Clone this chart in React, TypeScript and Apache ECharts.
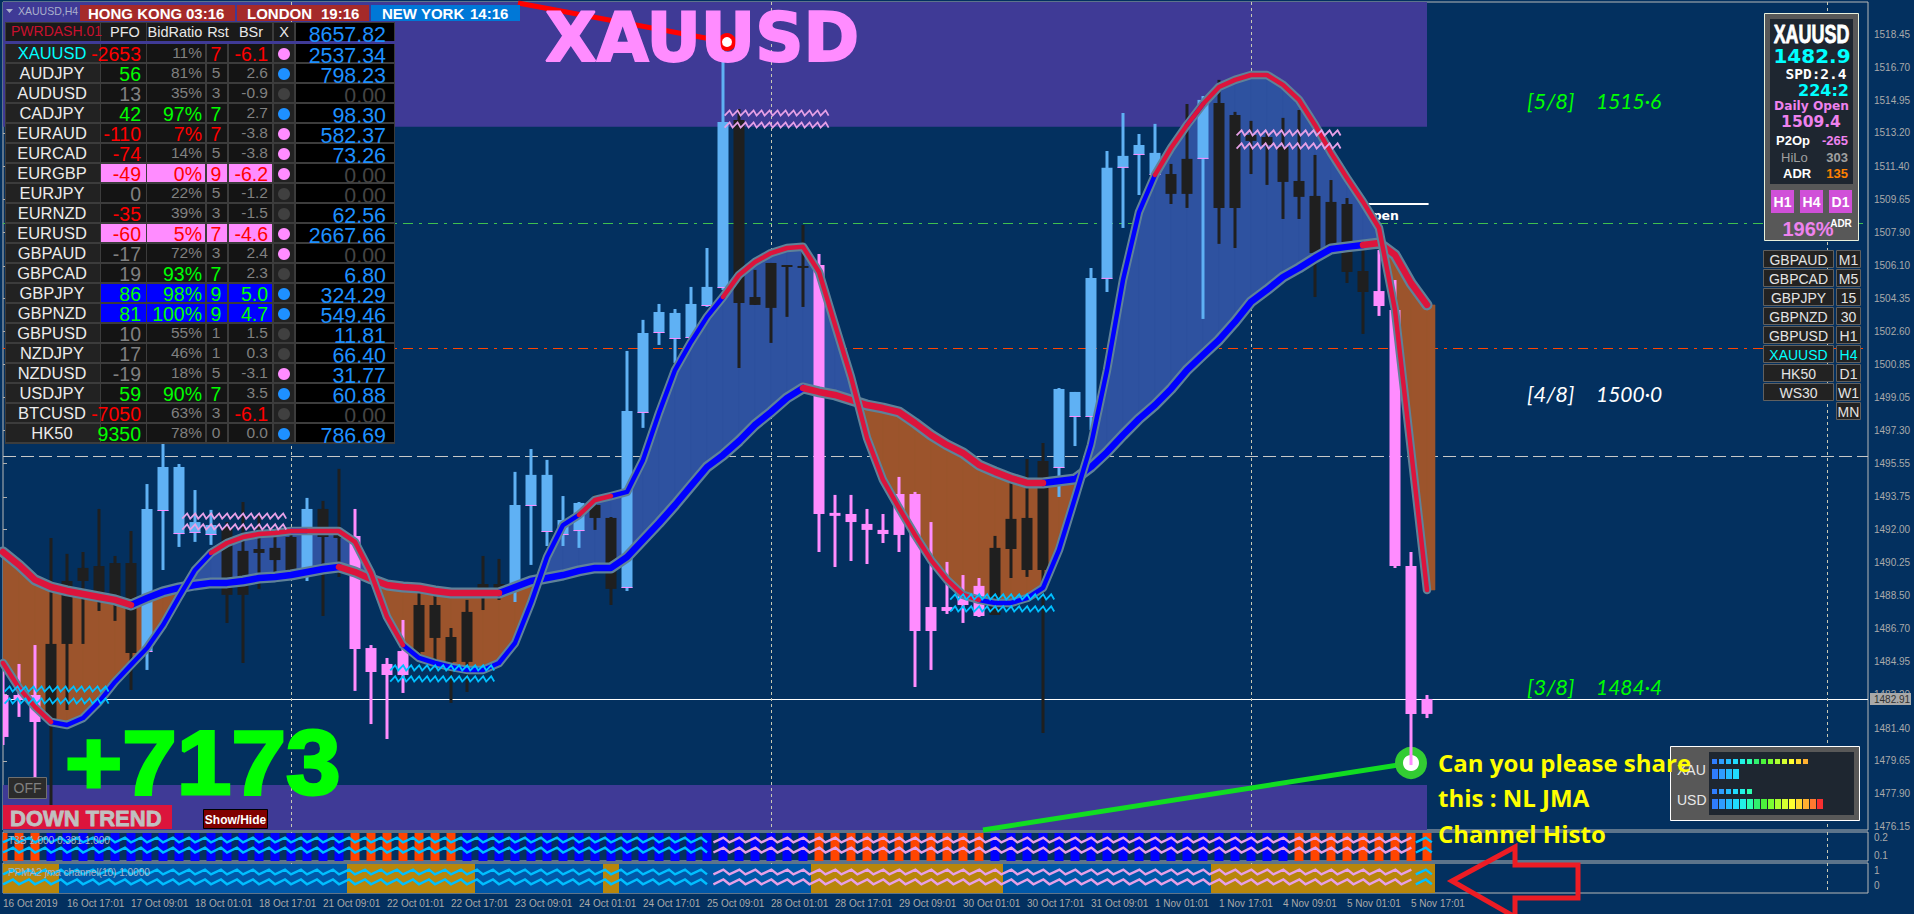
import React, { useEffect, useRef } from "react";
import * as echarts from "echarts";

// ---------- price bars (H4) ----------
const barHigh = [1485.04,1484.83,1485.84,1491.56,1490.71,1490.81,1493.11,1490.60,1491.93,1494.44,1496.63,1495.51,1494.12,1493.06,1492.41,1493.48,1492.79,1491.83,1491.83,1493.70,1493.54,1495.25,1493.11,1485.84,1485.15,1487.18,1488.62,1488.52,1486.75,1488.25,1490.60,1490.44,1495.09,1496.31,1495.73,1493.80,1493.48,1493.86,1492.68,1501.55,1503.21,1504.06,1503.79,1504.97,1507.05,1517.90,1514.48,1505.88,1506.25,1506.14,1508.28,1506.73,1493.86,1493.86,1493.11,1492.84,1494.82,1494.02,1492.41,1490.28,1489.58,1489.42,1491.67,1494.50,1495.78,1496.63,1499.57,1499.36,1505.98,1512.23,1514.26,1513.14,1513.68,1511.54,1514.74,1515.17,1516.03,1514.32,1513.84,1513.20,1514.00,1514.42,1512.02,1510.68,1509.72,1506.94,1506.94,1505.34,1490.81,1483.17];
const barTop = [1483.17,1483.17,1483.17,1485.90,1489.26,1489.96,1490.06,1490.22,1490.22,1493.11,1495.35,1495.35,1492.41,1492.25,1492.09,1490.87,1490.97,1491.03,1491.61,1493.11,1493.11,1491.99,1491.67,1485.68,1484.83,1485.52,1487.98,1487.98,1486.27,1487.61,1489.10,1489.10,1493.32,1494.93,1494.93,1492.52,1493.43,1493.32,1492.63,1498.34,1502.51,1503.63,1503.58,1504.06,1504.97,1513.78,1513.89,1504.43,1506.25,1506.14,1506.09,1506.14,1492.90,1492.84,1492.31,1491.99,1493.91,1493.91,1487.87,1487.87,1488.52,1489.00,1491.03,1492.58,1492.63,1495.67,1499.52,1499.36,1505.45,1511.33,1511.97,1512.55,1512.13,1511.00,1511.81,1514.96,1514.80,1514.16,1513.09,1512.98,1512.45,1510.63,1509.83,1509.51,1509.40,1505.82,1504.75,1503.74,1490.06,1482.96];
const barBottom = [1480.93,1482.91,1481.73,1481.84,1485.90,1489.26,1488.57,1488.09,1485.42,1485.47,1493.00,1491.77,1491.83,1491.72,1488.52,1488.52,1490.76,1490.38,1489.85,1489.85,1491.61,1491.56,1485.63,1484.40,1484.24,1484.24,1485.47,1486.22,1484.94,1484.94,1488.52,1488.52,1488.78,1493.27,1491.88,1491.72,1491.93,1492.63,1488.84,1488.89,1498.24,1502.51,1502.19,1502.24,1503.95,1504.91,1504.11,1504.01,1503.85,1506.04,1506.04,1492.84,1492.74,1492.41,1491.99,1491.77,1491.72,1486.59,1486.59,1487.66,1487.98,1487.39,1487.45,1490.97,1489.85,1489.85,1495.30,1498.02,1498.02,1505.40,1511.33,1512.02,1510.95,1509.94,1509.94,1511.81,1509.19,1509.19,1512.77,1512.55,1510.58,1509.78,1506.78,1507.05,1505.77,1504.70,1503.95,1490.06,1482.16,1482.16];
const barLow = [1480.50,1482.00,1478.74,1477.30,1482.37,1485.90,1487.66,1487.13,1483.44,1484.51,1489.85,1491.08,1491.35,1491.19,1487.02,1484.88,1488.84,1489.74,1489.32,1489.26,1487.39,1489.48,1483.39,1481.62,1480.82,1483.28,1485.04,1484.78,1482.75,1483.33,1487.71,1488.25,1488.14,1490.12,1491.13,1491.13,1491.03,1491.99,1487.98,1488.73,1497.44,1501.87,1500.91,1501.87,1503.90,1504.81,1500.64,1504.01,1501.98,1503.37,1503.90,1490.81,1490.01,1490.33,1490.17,1491.29,1490.81,1483.60,1484.51,1487.50,1487.02,1487.34,1487.45,1489.42,1489.48,1481.14,1493.75,1496.47,1497.33,1504.70,1508.12,1509.88,1510.95,1509.40,1509.19,1503.26,1507.27,1507.05,1511.00,1510.42,1508.60,1508.60,1504.43,1506.94,1505.18,1502.46,1503.42,1489.96,1479.43,1481.94];
// U = rising bar, D = falling bar, N = neutral bar
const barState = "DDD" + "NNNNNN" + "UUUUU" + "NNNNN" + "U" + "NN" + "DDDD" + "NNNNNN" + "UUUUU" + "NN" + "UUUUUUU" + "NNNNN" + "DDDDDDDDDDD" + "NNNN" + "UUUUUUU" + "NN" + "U" + "NNNNNNNNNN" + "DDDD";

// ---------- channel curves ----------
const fastCurve = [1484.88,1483.55,1482.53,1481.73,1481.57,1481.94,1482.80,1483.87,1484.78,1485.68,1486.91,1488.41,1489.85,1490.76,1491.29,1491.61,1491.77,1491.83,1491.93,1491.93,1491.93,1491.93,1491.35,1489.69,1487.34,1485.84,1485.15,1484.88,1484.67,1484.51,1484.51,1484.88,1485.95,1488.09,1490.54,1492.25,1492.79,1493.59,1493.80,1494.02,1495.73,1498.24,1500.53,1502.03,1503.37,1504.43,1505.61,1506.30,1506.78,1507.05,1507.11,1505.77,1502.94,1500.16,1496.90,1494.66,1493.16,1491.72,1490.38,1489.32,1488.52,1488.25,1488.09,1488.09,1488.35,1488.89,1490.92,1493.70,1496.53,1500.53,1505.34,1508.97,1510.95,1512.39,1513.62,1514.74,1515.65,1516.03,1516.29,1516.29,1515.76,1514.96,1513.62,1512.13,1510.79,1509.51,1508.12,1503.74,1496.26,1488.78];
const slowCurve = [1490.81,1490.12,1489.32,1488.94,1488.73,1488.57,1488.41,1488.25,1487.98,1488.35,1488.68,1488.89,1489.05,1489.16,1489.16,1489.26,1489.42,1489.48,1489.58,1489.74,1489.90,1490.01,1489.74,1489.37,1489.05,1488.94,1488.89,1488.73,1488.62,1488.62,1488.62,1488.62,1488.94,1489.26,1489.42,1489.58,1489.80,1489.96,1489.96,1490.54,1491.45,1492.36,1493.32,1494.34,1495.35,1495.99,1496.74,1497.60,1498.29,1499.04,1499.57,1499.36,1499.20,1498.93,1498.66,1498.50,1498.29,1497.70,1497.06,1496.53,1496.10,1495.46,1495.09,1494.76,1494.50,1494.50,1494.60,1494.71,1495.35,1496.15,1497.06,1497.92,1498.66,1499.52,1500.53,1501.34,1502.14,1503.10,1504.17,1504.81,1505.50,1505.98,1506.52,1507.00,1507.11,1507.21,1507.32,1506.68,1505.18,1504.01];
const fastTrend = "RRR" + "BBBBBBBBBB" + "RRRRR" + "B" + "RRRRRR" + "BBBBBBBBBBB" + "RR" + "BBBBBBB" + "RRRRRRRRRRRRRRRR" + "BBBBBBBBBBB" + "RR" + "B" + "RRRRRRRRRRRRRRR";
const slowTrend = "RRRRRRRR" + "BBBBBBBBBBBBB" + "RRRRRRRRRR" + "BBBBBBBBBBBBBBBBBBB" + "RRRRRRRRRRRRRRR" + "BBBBBBBBBBBBBBBBBBBB" + "RRRRR";

// ---------- histogram panes ----------
const histoA = "OOO" + "BBBBBBBBBBBBBBBBBBB" + "OOOOOOO" + "BBBBBBBBBBBBBBBBBBBBBB" + "OOOOOOOOOOO" + "BBBBBBBBBBBBBBBBBBB" + "OOOOOOOOO";
const histoB = "GGGG" + "BBBBBBBBBBBBBBBBBB" + "GGGGGGGG" + "BBBBBBBB" + "G" + "BBBBBBBBBBBB" + "GGGGGGGGGGGG" + "BBBBBBBBBBBBB" + "GGGGGGGGGGGGGG";

// ---------- levels ----------
const levelLines = [1508.38, 1501.71, 1495.95, 1482.96];
const zoneBands = [[1520.19, 1513.52], [1478.37, 1475.96]];
const separators = [18, 48, 78, 114];
const dailyOpenLevel = 1509.4;
const zigzagMain = [[45.1, 51.9, 1514.26, 0], [45.1, 51.9, 1513.62, 0], [77.1, 83.9, 1513.2, 0], [77.1, 83.9, 1512.5, 0], [11.2, 17.8, 1492.73, 0], [11.2, 17.8, 1492.15, 0], [0.1, 6.8, 1483.49, 1], [0.1, 6.8, 1482.85, 1], [24.2, 30.8, 1484.62, 1], [24.2, 30.8, 1484.03, 1], [59.2, 65.8, 1488.41, 1], [59.2, 65.8, 1487.77, 1]];
const zigzagRuns = [[0, 44.4, 1], [44.4, 88.3, 0], [88.3, 89.7, 1]];
const zigzagLevelsA = [0.188, 0.129];
const zigzagLevelsB = [0.93, 0.27];

// ---------- axes ----------
const priceTicks = [1518.45,1516.7,1514.95,1513.2,1511.4,1509.65,1507.9,1506.1,1504.35,1502.6,1500.85,1499.05,1497.3,1495.55,1493.75,1492,1490.25,1488.5,1486.7,1484.95,1483.2,1481.4,1479.65,1477.9,1476.15];
const timeLabels = ["16 Oct 2019","16 Oct 17:01","17 Oct 09:01","18 Oct 01:01","18 Oct 17:01","21 Oct 09:01","22 Oct 01:01","22 Oct 17:01","23 Oct 09:01","24 Oct 01:01","24 Oct 17:01","25 Oct 09:01","28 Oct 01:01","28 Oct 17:01","29 Oct 09:01","30 Oct 01:01","30 Oct 17:01","31 Oct 09:01","1 Nov 01:01","1 Nov 17:01","4 Nov 09:01","5 Nov 01:01","5 Nov 17:01"];
const timeTickStep = 4;

// ---------- dashboard ----------
const dashSymbols = ["XAUUSD","AUDJPY","AUDUSD","CADJPY","EURAUD","EURCAD","EURGBP","EURJPY","EURNZD","EURUSD","GBPAUD","GBPCAD","GBPJPY","GBPNZD","GBPUSD","NZDJPY","NZDUSD","USDJPY","BTCUSD","HK50"];
const dashPfo = ["-2653","56","13","42","-110","-74","-49","0","-35","-60","-17","19","86","81","10","17","-19","59","-7050","9350"];
const dashPfoTone = "rgngrrrnrrnnggnnngrg";
const dashBid = ["11%","81%","35%","97%","7%","14%","0%","22%","39%","5%","72%","93%","98%","100%","55%","46%","18%","90%","63%","78%"];
const dashBidTone = "nnngrnrnnrngggnnngnn";
const dashRst = ["7","5","3","7","7","5","9","5","3","7","3","7","9","9","1","1","5","7","3","0"];
const dashRstTone = "rnngrnrnnrngggnnngnn";
const dashBsr = ["-6.1","2.6","-0.9","2.7","-3.8","-3.8","-6.2","-1.2","-1.5","-4.6","2.4","2.3","5.0","4.7","1.5","0.3","-3.1","3.5","-6.1","0.0"];
const dashBsrTone = "rnnnnnrnnrnnggnnnnrn";
const dashDot = "pbnbpppnnppnbbnnpbnb";
const dashValue = ["2537.34","798.23","0.00","98.30","582.37","73.26","0.00","0.00","62.56","2667.66","0.00","6.80","324.29","549.46","11.81","66.40","31.77","60.88","0.00","786.69"];
const dashHighlight = [0,0,0,0,0,0,1,0,0,1,0,0,2,2,0,0,0,0,0,0];
const dashHeader = ["PFO", "BidRatio", "Rst", "BSr", "X"];
const dashTotal = "8657.82";

const sessions = [["HONG KONG", "03:16"], ["LONDON", "19:16"], ["NEW YORK", "14:16"]];
const symbolList = [["GBPAUD","M1"],["GBPCAD","M5"],["GBPJPY","15"],["GBPNZD","30"],["GBPUSD","H1"],["XAUUSD","H4"],["HK50","D1"],["WS30","W1"],["","MN"]];
const strengthRows = [["XAU", 14, 4], ["USD", 6, 16]];
const strengthColors = ["#2f7dff","#2f9dff","#25bdff","#20dcff","#22f2e6","#2cffb0","#30f06e","#4cf23c","#7cff30","#aeff30","#d6ff30","#ffff30","#ffd830","#ffb030","#ff7a30","#f83030"];
const murrey = [["[5/8]", "1515·6", 100, "#00ff00"], ["[4/8]", "1500·0", 393, "#ffffff"], ["[3/8]", "1484·4", 686, "#00ff00"]];
const questionLines = ["Can you please share", "this : NL JMA", "Channel Histo"];

const BG = "#03305f";
const SANS = "'Liberation Sans', Arial, sans-serif";
const DEJAVU = "'DejaVu Sans', sans-serif";

function txt(text: string, x: number, y: number, o: any = {}) {
  const font = `${o.italic ? "italic " : ""}${o.weight || "normal"} ${o.size || 12}px ${o.family || SANS}`;
  const style: any = { text, x: 0, y: 0, fill: o.color || "#fff", font, textAlign: o.align || "left", align: o.align || "left", textVerticalAlign: "middle", verticalAlign: "middle" };
  if (o.stroke) { style.stroke = o.stroke; style.lineWidth = o.lw || 1; }
  return { type: "text", x, y, z: o.z ?? 30, silent: true, scaleX: o.scaleX ?? 1, style };
}
function box(x: number, y: number, w: number, h: number, fill: string, o: any = {}) {
  return { type: "rect", z: o.z ?? 30, silent: true, shape: { x, y, width: w, height: h }, style: { fill, stroke: o.stroke || undefined, lineWidth: o.stroke ? o.lw || 1 : 0 } };
}

function buildGraphics() {
  const g: any[] = [];
  // annotations under the bars
  g.push({ type: "line", z: 4, silent: true, shape: { x1: 983, y1: 830, x2: 1411, y2: 763 }, style: { stroke: "#11dd22", lineWidth: 5 } });
  g.push({ type: "circle", z: 4, silent: true, shape: { cx: 1411, cy: 763, r: 12 }, style: { fill: "#ffffff", stroke: "#33cc33", lineWidth: 8 } });
  g.push({ type: "line", z: 20, silent: true, shape: { x1: 518, y1: 3, x2: 727, y2: 42 }, style: { stroke: "#ff0000", lineWidth: 5 } });
  g.push({ type: "circle", z: 20, silent: true, shape: { cx: 727, cy: 42, r: 7 }, style: { fill: "#ffffff", stroke: "#ff0000", lineWidth: 4 } });
  g.push(txt("XAUUSD", 545, 38, { size: 67, weight: "bold", family: DEJAVU, color: "#ff8cff", stroke: "#ff8cff", lw: 2, z: 21 }));
  g.push(txt("+7173", 65, 763, { size: 90, weight: "bold", color: "#00ff00", stroke: "#00ff00", lw: 3, scaleX: 1.09, z: 21 }));
  g.push(txt("Open", 1362, 215, { size: 12.5, weight: "bold", family: DEJAVU, color: "#ffffff", z: 3 }));
  // lower-left buttons
  g.push(box(8.5, 777.5, 38, 21, "#2b2b2b", { stroke: "#707070" }));
  g.push(txt("OFF", 27.5, 788, { size: 14, color: "#808080", align: "center" }));
  g.push(box(3, 805, 169, 24, "#dc143c"));
  g.push(txt("DOWN TREND", 10, 818, { size: 22, weight: "bold", color: "#c0c0c0", stroke: "#c0c0c0", lw: 0.8 }));
  g.push(box(203.5, 809.5, 64, 19, "#800000", { stroke: "#000000" }));
  g.push(txt("Show/Hide", 235.5, 820, { size: 12, weight: "bold", color: "#ffffff", align: "center" }));
  // arrow
  g.push({ type: "polygon", z: 25, silent: true, shape: { points: [[1452, 881], [1515, 847], [1515, 865], [1578, 865], [1578, 898], [1515, 898], [1515, 917]] }, style: { fill: "none", stroke: "#ed1c24", lineWidth: 5 } });
  // murrey labels
  murrey.forEach((m: any) => {
    g.push(txt(m[0], 1527, m[2], { size: 22, italic: true, family: "Lato, sans-serif", color: m[3], z: 10 }));
    g.push(txt(m[1], 1596, m[2], { size: 21, italic: true, family: "Lato, sans-serif", color: m[3], z: 10 }));
  });
  // price tag
  g.push(box(1870, 693, 41, 12, "#a8a8a8"));
  g.push(txt("1482.91", 1874, 699.5, { size: 10, color: "#303030" }));
  // sub-pane captions
  g.push(txt("T3S 1.000 0.381 1.000", 8, 840, { size: 10, color: "#a9b4c4", z: 9 }));
  g.push(txt("PPMA2 jma channel(10) 1.0000", 8, 872, { size: 10, color: "#a9b4c4", z: 9 }));

  // chart caption + sessions
  g.push({ type: "polygon", z: 30, silent: true, shape: { points: [[6, 9], [13, 9], [9.5, 13]] }, style: { fill: "#aab0cc" } });
  g.push(txt("XAUUSD,H4", 18, 11, { size: 10.5, color: "#aab0cc" }));
  const sessBox = [[80, 155, "#a52a2a", 88, 186], [237, 132, "#a52a2a", 247, 321], [371, 149, "#0078d7", 382, 470]];
  sessions.forEach((s, i) => {
    const b: any = sessBox[i];
    g.push(box(b[0], 5, b[1], 16, b[2]));
    g.push(txt(s[0], b[3], 13, { size: 15, weight: "bold", color: "#ffffff" }));
    g.push(txt(s[1], b[4], 13, { size: 15, weight: "bold", color: "#ffffff" }));
  });

  // dashboard
  const RED = "#ff0000", GREEN = "#00ff00", GREY = "#808080";
  const tone = (c: string) => (c === "r" ? RED : c === "g" ? GREEN : GREY);
  const col = { sym: [6, 94], pfo: [101, 45], bid: [147, 58], rst: [207, 20], bsr: [229, 43], x: [274, 20], val: [296, 98] };
  g.push(box(5, 22, 390, 422, "#3c3c3c"));
  g.push(box(5, 41, 390, 3, "#3f3a96"));
  const cell = (c: number[], y: number, h: number, fill: string) => g.push(box(c[0], y, c[1], h, fill));
  cell(col.sym, 23, 18, "#1a1a1a");
  cell(col.pfo, 23, 18, "#1a1a1a");
  cell([147, 125], 23, 18, "#1a1a1a");
  cell(col.x, 23, 18, "#1a1a1a");
  cell(col.val, 23, 18, "#000000");
  g.push(txt("PWRDASH.01", 11, 31, { size: 14, color: "#c8102e" }));
  const hx = [125, 175, 218, 251, 284];
  dashHeader.forEach((h, i) => g.push(txt(h, hx[i], 31.5, { size: 14.5, color: "#e8e8e8", align: "center" })));
  g.push(txt(dashTotal, 386, 34.5, { size: 21.4, color: "#1e90ff", align: "right" }));
  dashSymbols.forEach((s, k) => {
    const y = 44 + 20 * k, h = 18, cy = y + 9, hi = dashHighlight[k];
    const dataBg = hi === 1 ? "#ff8cff" : hi === 2 ? "#0000ff" : "#141414";
    cell(col.sym, y, h, "#222222");
    cell(col.pfo, y, h, dataBg);
    cell(col.bid, y, h, dataBg);
    cell(col.rst, y, h, dataBg);
    cell(col.bsr, y, h, dataBg);
    cell(col.x, y, h, "#222222");
    cell(col.val, y, h, "#000000");
    g.push(txt(s, 52, cy, { size: 16.5, color: k === 0 ? "#00ffff" : "#ececec", align: "center" }));
    g.push(txt(dashPfo[k], 141, cy + 1, { size: 19.5, color: tone(dashPfoTone[k]), align: "right" }));
    const sz = (c: string) => (c === "n" ? 15.5 : 19.5);
    g.push(txt(dashBid[k], 202, cy + (dashBidTone[k] === "n" ? -0.5 : 1), { size: sz(dashBidTone[k]), color: tone(dashBidTone[k]), align: "right" }));
    g.push(txt(dashRst[k], 216, cy + (dashRstTone[k] === "n" ? -0.5 : 1), { size: sz(dashRstTone[k]), color: tone(dashRstTone[k]), align: "center" }));
    g.push(txt(dashBsr[k], 268, cy + (dashBsrTone[k] === "n" ? -0.5 : 1), { size: sz(dashBsrTone[k]), color: tone(dashBsrTone[k]), align: "right" }));
    const d = dashDot[k];
    g.push({ type: "circle", z: 30, silent: true, shape: { cx: 284, cy: y + 10, r: 6 }, style: { fill: d === "p" ? "#ff8cff" : d === "b" ? "#1e90ff" : "#404040" } });
    g.push(txt(dashValue[k], 386, cy + 2.5, { size: 21.4, color: dashValue[k] === "0.00" ? "#444444" : "#1e90ff", align: "right" }));
  });

  // right info panel
  g.push(box(1764.5, 13.5, 94, 227, "#585858", { stroke: "#e8f0dc" }));
  g.push(box(1770, 19, 83, 165, "#1e2630"));
  g.push(txt("XAUUSD", 1811.5, 34, { size: 26, weight: "bold", color: "#ffffff", stroke: "#ffffff", lw: 0.8, align: "center", scaleX: 0.69 }));
  g.push(txt("1482.9", 1812, 55.5, { size: 20, weight: "bold", family: DEJAVU, color: "#00ffff", align: "center" }));
  g.push(txt("SPD:2.4", 1816, 74, { size: 14.5, weight: "bold", family: "'DejaVu Sans Mono', monospace", color: "#ffffff", align: "center" }));
  g.push(txt("224:2", 1849, 90, { size: 16, weight: "bold", family: DEJAVU, color: "#00ffff", align: "right" }));
  g.push(txt("Daily Open", 1811.5, 105.5, { size: 12.2, weight: "bold", family: DEJAVU, color: "#ee82ee", align: "center" }));
  g.push(txt("1509.4", 1811, 122, { size: 15.5, weight: "bold", family: DEJAVU, color: "#ee82ee", align: "center" }));
  const rows = [["P2Op", "-265", 140, "#ffffff", "#ee82ee"], ["HiLo", "303", 157, "#a0a0a0", "#a0a0a0"], ["ADR", "135", 173.5, "#ffffff", "#ff8000"]];
  rows.forEach((r: any, i) => {
    g.push(txt(r[0], i === 0 ? 1776 : i === 1 ? 1781 : 1783, r[2], { size: 13, weight: i === 1 ? "normal" : "bold", color: r[3] }));
    g.push(txt(r[1], 1848, r[2], { size: 13, weight: "bold", color: r[4], align: "right" }));
  });
  ["H1", "H4", "D1"].forEach((s, i) => {
    const x = 1771 + i * 29;
    g.push(box(x, 190, 23, 23, "#d050d8"));
    g.push(txt(s, x + 11.5, 202, { size: 14, weight: "bold", color: "#ffffff", align: "center" }));
  });
  g.push(txt("196%", 1808, 229, { size: 20, weight: "bold", color: "#ee82ee", align: "center" }));
  g.push(txt("ADR", 1841, 223, { size: 10, weight: "bold", color: "#ffffff", align: "center" }));

  // symbol list
  symbolList.forEach((s, i) => {
    const y = 250.5 + 19 * i, cy = y + 9, on = s[0] === "XAUUSD";
    if (s[0]) {
      g.push(box(1763.5, y, 70, 17, "#222222", { stroke: "#606060" }));
      g.push(txt(s[0], 1798.5, cy, { size: 14, color: on ? "#00ffff" : "#e4e4e4", align: "center" }));
    }
    g.push(box(1836.5, y, 24, 17, "#222222", { stroke: "#606060" }));
    g.push(txt(s[1], 1848.5, cy, { size: 14, color: on ? "#00ffff" : "#e4e4e4", align: "center" }));
  });

  // currency strength panel
  g.push(box(1670.5, 746.5, 189, 74, "#585858", { stroke: "#ffffff" }));
  g.push(box(1709, 752, 145, 63, "#1e2630"));
  strengthRows.forEach((r: any, k) => {
    const y0 = 759 + 30 * k;
    g.push(txt(r[0], 1677, y0 + 11, { size: 14, color: "#e8e8e8" }));
    for (let i = 0; i < r[1]; i++) g.push(box(1712 + 7 * i, y0, 5, 5, strengthColors[i]));
    for (let i = 0; i < r[2]; i++) g.push(box(1712 + 7 * i, y0 + 10, 6, 10, strengthColors[i]));
  });
  // question, on top of the strength panel
  questionLines.forEach((s, i) => g.push(txt(s, 1438, [762, 797, 833][i], { size: 24, weight: "bold", family: "'Open Sans', sans-serif", color: "#ffff00", z: 35 })));
  return g;
}

const xMax = 116.5625;
const hide = { show: false };

function fullRange(paneIndex: number, data: any[], item: (i: number) => string | null, width: number, z: number) {
  return {
    type: "custom", xAxisIndex: paneIndex, yAxisIndex: paneIndex, z, silent: true, clip: true, data,
    renderItem: (p: any, api: any) => {
      const i = api.value(0);
      const fill = item(i);
      if (!fill) return null;
      const cs = p.coordSys;
      const w = width * 16;
      const x = api.coord([i, 0])[0];
      return { type: "rect", shape: { x: x - w / 2, y: cs.y + 1, width: w, height: cs.height - 1 }, style: { fill } };
    },
  };
}

function zigzagSeries(pane: number, data: any[], pitch: number, rise: number, amp: number, lw: number, z: number) {
  return {
    type: "custom", xAxisIndex: pane, yAxisIndex: pane, z, silent: true, clip: false, data,
    encode: { x: [0, 1], y: 2 },
    renderItem: (_: any, api: any) => {
      const a = api.coord([api.value(0), api.value(2)]);
      const b = api.coord([api.value(1), api.value(2)]);
      const pts: number[][] = [];
      for (let x = a[0]; x < b[0]; x += pitch) {
        pts.push([x, a[1] + amp]);
        if (x + rise <= b[0]) pts.push([x + rise, a[1] - amp]);
      }
      return { type: "polyline", shape: { points: pts }, style: { stroke: api.value(3) === 1 ? "#00bfff" : "#e6a0e6", fill: "none", lineWidth: lw } };
    },
  };
}

function curveSeries(values: number[], trend: string, inner: number, outer: number, z: number) {
  const outline = values.map((v, i) => [i, v]);
  const part = (c: string) => values.map((v, i) => [i, trend[i] === c || (i > 0 && trend[i - 1] === c) ? v : null]);
  const base = { type: "line", xAxisIndex: 0, yAxisIndex: 0, showSymbol: false, symbol: "none", silent: true, clip: true, connectNulls: false, z };
  return [
    { ...base, data: outline, lineStyle: { color: "#5f8299", width: outer, cap: "round", join: "round" } },
    { ...base, z: z + 0.1, data: part("B"), lineStyle: { color: "#0000ff", width: inner, cap: "round", join: "round" } },
    { ...base, z: z + 0.1, data: part("R"), lineStyle: { color: "#dc143c", width: inner, cap: "round", join: "round" } },
  ];
}

function buildOption() {
  const idx = barHigh.map((_, i) => i);
  const FILL_UP = "#2e52a0", FILL_DN = "#9c542c";
  const xBase = { type: "value", min: 0, max: xMax, splitLine: hide, axisLine: hide };
  const series: any[] = [
    {
      type: "custom", xAxisIndex: 0, yAxisIndex: 0, z: 1, silent: true, clip: true,
      data: zoneBands.map((b) => [89, b[0], b[1]]),
      renderItem: (p: any, api: any) => {
        const a = api.coord([0, api.value(1)]);
        const b = api.coord([api.value(0), api.value(2)]);
        return { type: "rect", shape: { x: p.coordSys.x, y: a[1], width: b[0] - p.coordSys.x, height: b[1] - a[1] }, style: { fill: "#3f3a96" } };
      },
    },
    {
      type: "custom", xAxisIndex: 0, yAxisIndex: 0, z: 2, silent: true, clip: true,
      data: levelLines.map((v, i) => [0, v, i]),
      renderItem: (p: any, api: any) => {
        const y = Math.round(api.coord([0, api.value(1)])[1]) + 0.5;
        const k = api.value(2);
        const stroke = ["#3fbf4f", "#ff4500", "#c8c8c8", "#ffffff"][k];
        const lineDash = [[10, 6, 3, 6], [10, 6, 3, 6], [13, 5], null][k];
        return { type: "line", shape: { x1: p.coordSys.x, y1: y, x2: p.coordSys.x + p.coordSys.width, y2: y }, style: { stroke, lineWidth: 1, lineDash } };
      },
    },
    {
      type: "custom", xAxisIndex: 0, yAxisIndex: 0, z: 2, silent: true, clip: true,
      data: [[84.5, 89.1, dailyOpenLevel]],
      renderItem: (_: any, api: any) => {
        const a = api.coord([api.value(0), api.value(2)]);
        const b = api.coord([api.value(1), api.value(2)]);
        return { type: "line", shape: { x1: a[0], y1: a[1], x2: b[0], y2: b[1] }, style: { stroke: "#ffffff", lineWidth: 2 } };
      },
    },
    ...[0, 1, 2].map((pane) => ({
      type: "custom", xAxisIndex: pane, yAxisIndex: pane, z: 2, silent: true, clip: true,
      data: separators.map((s) => [s]),
      renderItem: (p: any, api: any) => {
        const x = Math.round(api.coord([api.value(0), 0])[0]) + 0.5;
        return { type: "line", shape: { x1: x, y1: p.coordSys.y, x2: x, y2: p.coordSys.y + p.coordSys.height }, style: { stroke: "#c8c8b4", lineWidth: 1, lineDash: [3, 3] } };
      },
    })),
    {
      type: "custom", xAxisIndex: 0, yAxisIndex: 0, z: 3, silent: true, clip: true,
      data: idx.map((i) => [i, fastCurve[i], slowCurve[i], fastCurve[i + 1] ?? fastCurve[i], slowCurve[i + 1] ?? slowCurve[i], i + 1 < idx.length ? 1 : 0.5]),
      renderItem: (_: any, api: any) => {
        const i = api.value(0), step = api.value(5);
        const f0 = api.coord([i, api.value(1)]), s0 = api.coord([i, api.value(2)]);
        const f1 = api.coord([i + step, api.value(3)]), s1 = api.coord([i + step, api.value(4)]);
        const d0 = s0[1] - f0[1], d1 = s1[1] - f1[1];
        const poly = (points: number[][], fill: string) => ({ type: "polygon", shape: { points }, style: { fill, stroke: fill, lineWidth: 0.6 } });
        if (d0 * d1 >= 0) return poly([f0, f1, s1, s0], d0 + d1 >= 0 ? FILL_UP : FILL_DN);
        const t = d0 / (d0 - d1);
        const c = [f0[0] + (f1[0] - f0[0]) * t, f0[1] + (f1[1] - f0[1]) * t];
        return { type: "group", children: [poly([f0, c, s0], d0 > 0 ? FILL_UP : FILL_DN), poly([c, f1, s1], d1 > 0 ? FILL_UP : FILL_DN)] };
      },
    },
    {
      type: "custom", xAxisIndex: 0, yAxisIndex: 0, z: 5, silent: true, clip: true,
      data: idx.map((i) => [i, barHigh[i], barLow[i], barTop[i], barBottom[i], "DUN".indexOf(barState[i])]),
      encode: { x: 0, y: [1, 2, 3, 4] },
      renderItem: (_: any, api: any) => {
        const i = api.value(0), k = api.value(5);
        const color = ["#ff8cff", "#5fb1f4", "#1f1f1f"][k];
        const h = api.coord([i, api.value(1)]), l = api.coord([i, api.value(2)]);
        const t = api.coord([i, api.value(3)]), b = api.coord([i, api.value(4)]);
        const cx = Math.round(h[0]);
        const kids: any[] = [
          { type: "rect", shape: { x: cx - 1.5, y: h[1], width: 3, height: l[1] - h[1] }, style: { fill: color } },
          { type: "rect", shape: { x: cx - 5.5, y: t[1], width: 11, height: Math.max(2, b[1] - t[1]) }, style: { fill: color } },
        ];
        if (k === 1) kids.push({ type: "rect", shape: { x: cx - 5.5, y: b[1] - 1, width: 11, height: 1 }, style: { fill: "#ff8cff" } });
        return { type: "group", children: kids };
      },
    },
    ...curveSeries(slowCurve, slowTrend, 6.5, 11, 6),
    ...curveSeries(fastCurve, fastTrend, 4.5, 8.5, 7),
    zigzagSeries(0, zigzagMain, 8, 5, 2.6, 1.8, 8),
    fullRange(1, idx.map((i) => [i]), (i) => (histoA[i] === "O" ? "#ff4500" : "#0000ff"), 9 / 16, 3),
    fullRange(2, idx.map((i) => [i]), (i) => (histoB[i] === "G" ? "#b8860b" : "#0058a8"), 1, 3),
    zigzagSeries(1, zigzagRuns.flatMap((r) => zigzagLevelsA.map((v) => [r[0], r[1], v, r[2]])), 16, 10, 2.4, 2.4, 8),
    zigzagSeries(2, zigzagRuns.flatMap((r) => zigzagLevelsB.map((v) => [r[0], r[1], v, r[2]])), 16, 10, 2.4, 2.4, 8),
  ];

  const axisText = { color: "#aaaaaa", fontSize: 10, fontFamily: SANS };
  const tickLine = { lineStyle: { color: "#b0b0b0" } };
  return {
    animation: false,
    backgroundColor: BG,
    grid: [
      { left: 3, width: 1865, top: 2, height: 828, show: true, borderColor: "#b8b8b8", borderWidth: 1, backgroundColor: "transparent" },
      { left: 3, width: 1865, top: 832, height: 29, show: true, borderColor: "#b8b8b8", borderWidth: 1, backgroundColor: "transparent" },
      { left: 3, width: 1865, top: 863, height: 30, show: true, borderColor: "#b8b8b8", borderWidth: 1, backgroundColor: "transparent" },
    ],
    xAxis: [
      { ...xBase, gridIndex: 0, axisTick: hide, axisLabel: hide },
      { ...xBase, gridIndex: 1, axisTick: hide, axisLabel: hide },
      {
        ...xBase, gridIndex: 2,
        axisTick: { show: true, length: 4, customValues: timeLabels.map((_, i) => i * timeTickStep), ...tickLine },
        axisLabel: { show: true, customValues: timeLabels.map((_, i) => i * timeTickStep), formatter: (v: number) => timeLabels[v / timeTickStep] ?? "", align: "left", margin: 5, ...axisText, hideOverlap: false },
      },
    ],
    yAxis: [
      {
        type: "value", gridIndex: 0, position: "right", min: 1475.96, max: 1520.19, splitLine: hide, axisLine: hide,
        axisTick: { show: true, length: 4, customValues: priceTicks, ...tickLine },
        axisLabel: { show: true, customValues: priceTicks, formatter: (v: number) => v.toFixed(2), margin: 6, ...axisText },
      },
      {
        type: "value", gridIndex: 1, position: "right", min: 0.065, max: 0.235, splitLine: hide, axisLine: hide,
        axisTick: { show: true, length: 4, customValues: [0.1, 0.2], ...tickLine },
        axisLabel: { show: true, customValues: [0.1, 0.2], formatter: (v: number) => v.toFixed(1), margin: 6, ...axisText },
      },
      {
        type: "value", gridIndex: 2, position: "right", min: -0.47, max: 1.53, splitLine: hide, axisLine: hide,
        axisTick: { show: true, length: 4, customValues: [0, 1], ...tickLine },
        axisLabel: { show: true, customValues: [0, 1], formatter: (v: number) => String(v), margin: 6, ...axisText },
      },
    ],
    series,
    graphic: buildGraphics(),
  };
}

export default function App() {
  const ref = useRef<HTMLDivElement>(null);
  useEffect(() => {
    document.body.style.margin = "0";
    document.body.style.background = BG;
    const chart = echarts.init(ref.current!, null, { renderer: "svg" });
    chart.setOption(buildOption() as any);
    return () => chart.dispose();
  }, []);
  return <div ref={ref} style={{ position: "absolute", left: 0, top: 0, width: 1914, height: 914, overflow: "hidden" }} />;
}
